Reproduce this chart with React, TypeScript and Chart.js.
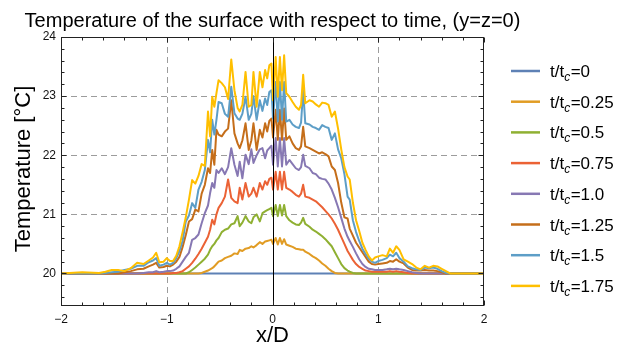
import React, { useEffect, useRef } from "react";
import { Chart, registerables } from "chart.js";

Chart.register(...registerables);

const FONT = "'Liberation Sans', Arial, Helvetica, sans-serif";

const TITLE = "Temperature of the surface with respect to time, (y=z=0)";
const X_TITLE = "x/D";
const Y_TITLE = "Temperature [\u00B0C]";

const X_TICKS = [-2, -1, 0, 1, 2];
const Y_TICKS = [20, 21, 22, 23, 24];
const X_GRIDLINES = [-1, 1];
const Y_GRIDLINES = [21, 22, 23];

const SERIES_LABELS = ["0", "0.25", "0.5", "0.75", "1.0", "1.25", "1.5", "1.75"];
const COLORS = ["#5E81B5", "#E19C24", "#8FB032", "#EB6235", "#8778B3", "#C56E1A", "#5D9EC7", "#FFBF00"];

const X_FLAT = [-2, 2];
const T000 = [20, 20];

const X_GRID = [
  -2.0, -1.8, -1.64, -1.58, -1.52, -1.46, -1.4, -1.34, -1.28, -1.22,
  -1.17, -1.13, -1.1, -1.07, -1.03, -1.0, -0.97, -0.94, -0.91, -0.88,
  -0.85, -0.82, -0.79, -0.76, -0.73, -0.7, -0.67, -0.64, -0.61, -0.59,
  -0.57, -0.55, -0.53, -0.51, -0.48, -0.45, -0.42, -0.39, -0.36, -0.33,
  -0.31, -0.285, -0.255, -0.225, -0.2, -0.18, -0.15, -0.12, -0.095, -0.07,
  -0.05, -0.03, -0.01, 0.005, 0.03, 0.05, 0.07, 0.09, 0.11, 0.13,
  0.16, 0.19, 0.22, 0.25, 0.27, 0.29, 0.31, 0.35, 0.38, 0.41,
  0.44, 0.47, 0.5, 0.53, 0.56, 0.59, 0.62, 0.65, 0.68, 0.71,
  0.73, 0.76, 0.79, 0.82, 0.85, 0.88, 0.91, 0.94, 0.97, 1.0,
  1.04, 1.08, 1.11, 1.14, 1.17, 1.2, 1.24, 1.28, 1.32, 1.36,
  1.4, 1.44, 1.48, 1.52, 1.56, 1.6, 1.64, 1.68, 1.8, 2.0,
];

const T025 = [
  20.0, 20.0, 20.0, 20.0, 20.0, 20.0, 20.0, 20.0, 20.0, 20.0,
  20.0, 20.0, 20.0, 20.0, 20.0, 20.0, 20.0, 20.0, 20.0, 20.0,
  20.0, 20.0, 20.0, 20.0, 20.0, 20.0, 20.01, 20.03, 20.05, 20.07,
  20.09, 20.12, 20.16, 20.2, 20.22, 20.26, 20.28, 20.3, 20.34, 20.33,
  20.4, 20.38, 20.42, 20.43, 20.46, 20.44, 20.48, 20.53, 20.5, 20.54,
  20.55, 20.56, 20.57, 20.5, 20.6, 20.49, 20.6, 20.5, 20.58, 20.49,
  20.47, 20.45, 20.42, 20.41, 20.4, 20.4, 20.37, 20.33, 20.29, 20.26,
  20.22, 20.17, 20.13, 20.08, 20.04, 20.01, 20.0, 20.0, 20.0, 20.0,
  20.0, 20.0, 20.0, 20.0, 20.0, 20.0, 20.0, 20.0, 20.0, 20.0,
  20.0, 20.0, 20.0, 20.0, 20.0, 20.0, 20.0, 20.0, 20.0, 20.0,
  20.0, 20.0, 20.0, 20.0, 20.0, 20.0, 20.0, 20.0, 20.0, 20.0,
];

const T050 = [
  20.0, 20.0, 20.0, 20.0, 20.0, 20.0, 20.0, 20.0, 20.0, 20.0,
  20.0, 20.0, 20.0, 20.0, 20.0, 20.0, 20.0, 20.0, 20.0, 20.0,
  20.0, 20.0, 20.02, 20.06, 20.1, 20.15, 20.2, 20.25, 20.32, 20.4,
  20.46, 20.5, 20.56, 20.6, 20.7, 20.74, 20.76, 20.83, 20.85, 20.97,
  20.8, 20.86, 20.97, 20.88, 20.85, 20.95, 21.0, 20.88, 21.02, 21.05,
  21.07, 21.09, 21.11, 20.97, 21.16, 20.97, 21.16, 20.98, 21.16, 20.97,
  20.9, 20.86, 20.83, 20.82, 20.86, 20.94, 20.84, 20.79, 20.74, 20.71,
  20.67, 20.63, 20.58, 20.52, 20.46, 20.36, 20.26, 20.16, 20.09, 20.05,
  20.03, 20.01, 20.0, 20.0, 20.0, 20.0, 20.0, 20.0, 20.0, 20.0,
  20.0, 20.0, 20.0, 20.0, 20.0, 20.0, 20.0, 20.0, 20.0, 20.0,
  20.0, 20.0, 20.0, 20.0, 20.0, 20.0, 20.0, 20.0, 20.0, 20.0,
];

const T075 = [
  20.0, 20.0, 20.0, 20.0, 20.0, 20.0, 20.0, 20.0, 20.0, 20.0,
  20.0, 20.0, 20.0, 20.0, 20.0, 20.0, 20.0, 20.01, 20.01, 20.02,
  20.04, 20.08, 20.12, 20.18, 20.25, 20.33, 20.42, 20.52, 20.62, 20.74,
  20.91, 20.83, 21.0, 21.11, 21.19, 21.3, 21.59, 21.28, 21.22, 21.19,
  21.45, 21.25, 21.53, 21.3, 21.35, 21.45, 21.3, 21.53, 21.42, 21.56,
  21.5, 21.6, 21.62, 21.42, 21.72, 21.42, 21.72, 21.42, 21.72, 21.45,
  21.42, 21.38, 21.33, 21.3, 21.35, 21.5, 21.3, 21.28, 21.25, 21.22,
  21.17, 21.12, 21.06, 21.0, 20.93, 20.84, 20.74, 20.62, 20.5, 20.38,
  20.32, 20.23, 20.16, 20.11, 20.08, 20.05, 20.04, 20.03, 20.03, 20.03,
  20.03, 20.03, 20.04, 20.03, 20.04, 20.03, 20.02, 20.01, 20.0, 20.0,
  20.0, 20.0, 20.0, 20.0, 20.0, 20.0, 20.0, 20.0, 20.0, 20.0,
];

const T100 = [
  20.0, 20.0, 20.0, 20.0, 20.0, 20.0, 20.0, 20.0, 20.0, 20.01,
  20.02, 20.02, 20.04, 20.02, 20.03, 20.04, 20.04, 20.05, 20.08, 20.12,
  20.2, 20.28, 20.35, 20.57, 20.6, 20.66, 20.85, 21.02, 21.15, 21.36,
  21.53, 21.45, 21.75, 21.7, 21.78, 21.68, 21.8, 22.12, 21.84, 21.65,
  21.89, 21.61, 22.01, 21.85, 22.1, 21.87, 22.0, 22.1, 22.12, 21.95,
  22.08, 22.12, 22.16, 21.84, 22.29, 21.81, 22.29, 21.81, 22.29, 21.84,
  21.92, 21.85, 21.78, 21.75, 21.8, 22.01, 21.82, 21.78, 21.7, 21.68,
  21.62, 21.6, 21.59, 21.52, 21.42, 21.28, 21.12, 20.94, 20.76, 20.62,
  20.55, 20.45, 20.34, 20.24, 20.16, 20.11, 20.08, 20.07, 20.06, 20.06,
  20.06, 20.07, 20.08, 20.07, 20.08, 20.07, 20.06, 20.04, 20.02, 20.01,
  20.0, 20.0, 20.0, 20.0, 20.0, 20.0, 20.0, 20.0, 20.0, 20.0,
];

const T125 = [
  20.0, 20.0, 20.0, 20.0, 20.0, 20.0, 20.02, 20.04, 20.07, 20.08,
  20.12, 20.15, 20.18, 20.1, 20.11, 20.13, 20.12, 20.15, 20.2, 20.28,
  20.45, 20.65, 20.88, 20.92, 21.08, 21.05, 21.35, 21.5, 21.78, 21.7,
  22.09, 21.84, 22.43, 22.35, 22.32, 22.4, 22.45, 22.93, 22.37, 22.2,
  22.12, 22.25, 22.54, 22.09, 22.25, 22.54, 22.09, 22.43, 22.3, 22.54,
  22.4, 22.58, 22.62, 22.3, 22.77, 22.26, 22.77, 22.26, 22.79, 22.26,
  22.32, 22.2, 22.12, 22.09, 22.15, 22.48, 22.15, 22.12, 22.09, 22.06,
  22.03, 22.05, 22.02, 21.98, 21.81, 21.75, 21.53, 21.2, 20.95, 20.93,
  20.76, 20.64, 20.52, 20.44, 20.36, 20.28, 20.2, 20.16, 20.15, 20.16,
  20.17, 20.18, 20.21, 20.2, 20.24, 20.2, 20.17, 20.1, 20.06, 20.05,
  20.05, 20.06, 20.05, 20.05, 20.04, 20.02, 20.0, 20.0, 20.0, 20.0,
];

const T150 = [
  20.0, 20.0, 20.0, 20.01, 20.02, 20.03, 20.06, 20.08, 20.13, 20.13,
  20.19, 20.22, 20.26, 20.13, 20.15, 20.18, 20.15, 20.18, 20.26, 20.38,
  20.55, 20.88, 20.98, 21.19, 21.11, 21.42, 21.55, 21.75, 22.26, 22.05,
  22.6, 22.35, 22.6, 22.9, 22.88, 22.7, 22.65, 23.16, 22.71, 22.62,
  22.6, 22.7, 22.99, 22.6, 22.7, 23.0, 22.6, 22.93, 22.75, 22.96,
  22.85, 23.07, 23.1, 22.62, 23.24, 22.57, 23.24, 22.6, 23.24, 22.57,
  22.6, 22.52, 22.48, 22.46, 22.55, 23.1, 22.54, 22.52, 22.48, 22.46,
  22.43, 22.51, 22.48, 22.46, 22.26, 22.37, 22.1, 21.95, 21.68, 21.3,
  21.25, 20.9, 20.7, 20.55, 20.42, 20.33, 20.25, 20.2, 20.18, 20.21,
  20.23, 20.26, 20.32, 20.29, 20.35, 20.26, 20.2, 20.12, 20.09, 20.07,
  20.06, 20.1, 20.09, 20.1, 20.08, 20.04, 20.01, 20.0, 20.0, 20.0,
];

const T175 = [
  20.0, 20.02, 20.01, 20.03, 20.06, 20.06, 20.04, 20.09, 20.18, 20.16,
  20.22, 20.27, 20.35, 20.19, 20.2, 20.26, 20.21, 20.21, 20.3, 20.46,
  20.7, 20.95, 21.25, 21.58, 21.52, 21.65, 21.85, 21.82, 22.74, 22.32,
  22.99, 22.82, 23.05, 23.27, 23.22, 23.15, 22.95, 23.62, 23.1, 22.8,
  22.74, 22.85, 23.41, 22.82, 22.85, 23.41, 22.82, 23.41, 23.15, 23.44,
  23.3, 23.52, 23.55, 22.93, 23.66, 22.99, 23.66, 23.1, 23.69, 23.05,
  22.99, 22.9, 22.82, 22.77, 22.85, 23.36, 22.88, 22.93, 22.91, 22.86,
  22.82, 22.89, 22.88, 22.85, 22.65, 22.74, 22.45, 22.1, 21.8, 21.64,
  21.59, 21.2, 20.9, 20.72, 20.52, 20.4, 20.29, 20.22, 20.27, 20.29,
  20.31, 20.29, 20.42, 20.35, 20.46, 20.4, 20.24, 20.2, 20.16, 20.1,
  20.07, 20.13, 20.1, 20.13, 20.12, 20.08, 20.04, 20.0, 20.0, 20.0,
];

const SERIES = [
  { xs: X_FLAT, ys: T000 },
  { xs: X_GRID, ys: T025 },
  { xs: X_GRID, ys: T050 },
  { xs: X_GRID, ys: T075 },
  { xs: X_GRID, ys: T100 },
  { xs: X_GRID, ys: T125 },
  { xs: X_GRID, ys: T150 },
  { xs: X_GRID, ys: T175 },
];

const fmtTick = (v: number) => (v < 0 ? "\u2212" + Math.abs(v) : String(v));

const decor = {
  id: "decor",
  beforeDatasetsDraw(chart: any) {
    const { ctx, chartArea: a, scales } = chart;
    const x = scales.x;
    const y = scales.y;
    ctx.save();
    ctx.strokeStyle = "#9c9c9c";
    ctx.lineWidth = 1;
    ctx.setLineDash([6, 4]);
    for (const v of X_GRIDLINES) {
      const px = Math.round(x.getPixelForValue(v)) + 0.5;
      ctx.beginPath();
      ctx.moveTo(px, a.top);
      ctx.lineTo(px, a.bottom);
      ctx.stroke();
    }
    for (const v of Y_GRIDLINES) {
      const py = Math.round(y.getPixelForValue(v)) + 0.5;
      ctx.beginPath();
      ctx.moveTo(a.left, py);
      ctx.lineTo(a.right, py);
      ctx.stroke();
    }
    ctx.restore();
  },
  afterDatasetsDraw(chart: any) {
    const { ctx, chartArea: a, scales } = chart;
    const x = scales.x;
    const y = scales.y;
    ctx.save();
    ctx.setLineDash([]);
    ctx.strokeStyle = "#000";
    ctx.lineWidth = 1;
    // vertical axis at x = 0
    const p0 = Math.round(x.getPixelForValue(0)) + 0.5;
    ctx.beginPath();
    ctx.moveTo(p0, a.top);
    ctx.lineTo(p0, a.bottom);
    ctx.stroke();
    // frame
    const L = Math.round(a.left) + 0.5;
    const R = Math.round(a.right) - 0.5;
    const T = Math.round(a.top) + 0.5;
    const B = Math.round(a.bottom) - 0.5;
    ctx.strokeStyle = "#222";
    ctx.strokeRect(L, T, R - L, B - T);
    // x ticks (inward, bottom and top)
    for (let k = 0; k <= 20; k++) {
      const v = -2 + k * 0.2;
      const major = k % 5 === 0;
      const len = major ? 5 : 3;
      const px = Math.round(x.getPixelForValue(v)) + 0.5;
      ctx.beginPath();
      ctx.moveTo(px, B);
      ctx.lineTo(px, B - len);
      ctx.moveTo(px, T);
      ctx.lineTo(px, T + len);
      ctx.stroke();
    }
    // y ticks (inward, left and right)
    for (let k = 0; k <= 22; k++) {
      const v = 19.6 + k * 0.2;
      const major = Math.abs(v - Math.round(v)) < 1e-6;
      const len = major ? 5 : 3;
      const py = Math.round(y.getPixelForValue(v)) + 0.5;
      ctx.beginPath();
      ctx.moveTo(L, py);
      ctx.lineTo(L + len, py);
      ctx.moveTo(R, py);
      ctx.lineTo(R - len, py);
      ctx.stroke();
    }
    // title
    const cx = (a.left + a.right) / 2;
    ctx.fillStyle = "#000";
    ctx.textAlign = "center";
    ctx.textBaseline = "alphabetic";
    ctx.font = `20px ${FONT}`;
    ctx.fillText(TITLE, cx, 27);
    // x title
    ctx.font = `22px ${FONT}`;
    ctx.fillText(X_TITLE, cx, 342);
    // y title
    ctx.save();
    ctx.translate(30, 169);
    ctx.rotate(-Math.PI / 2);
    ctx.textBaseline = "alphabetic";
    ctx.fillText(Y_TITLE, 0, 0);
    ctx.restore();
    // legend
    ctx.textAlign = "left";
    for (let i = 0; i < SERIES_LABELS.length; i++) {
      const ly = 71 + i * 30.7;
      ctx.strokeStyle = COLORS[i];
      ctx.lineWidth = 2.5;
      ctx.beginPath();
      ctx.moveTo(511, ly);
      ctx.lineTo(540, ly);
      ctx.stroke();
      let tx = 550;
      const base = ly + 6;
      ctx.fillStyle = "#000";
      ctx.font = `17px ${FONT}`;
      ctx.fillText("t/t", tx, base);
      tx += ctx.measureText("t/t").width;
      ctx.font = `italic 12px ${FONT}`;
      ctx.fillText("c", tx, base + 4);
      tx += ctx.measureText("c").width + 0.5;
      ctx.font = `17px ${FONT}`;
      ctx.fillText("=" + SERIES_LABELS[i], tx, base);
    }
    ctx.restore();
  },
};

export default function App() {
  const ref = useRef<HTMLCanvasElement>(null);
  useEffect(() => {
    document.body.style.margin = "0";
    const canvas = ref.current;
    if (!canvas) return;
    const chart = new Chart(canvas, {
      type: "line",
      data: {
        datasets: SERIES.map((s, i) => ({
          label: "t/tc=" + SERIES_LABELS[i],
          data: s.xs.map((xv, j) => ({ x: xv, y: s.ys[j] })),
          borderColor: COLORS[i],
          backgroundColor: COLORS[i],
          borderWidth: 2,
          pointRadius: 0,
          tension: 0,
          fill: false,
          borderJoinStyle: "round" as const,
          order: SERIES.length - 1 - i,
        })),
      },
      options: {
        responsive: false,
        animation: false,
        layout: { padding: { left: 0, right: 137, top: 37, bottom: 0 } },
        plugins: {
          legend: { display: false },
          title: { display: false },
          tooltip: { enabled: false },
        },
        scales: {
          x: {
            type: "linear",
            min: -2,
            max: 2,
            afterFit: (s: any) => {
              s.height = 46;
            },
            afterBuildTicks: (s: any) => {
              s.ticks = X_TICKS.map((v) => ({ value: v }));
            },
            ticks: {
              font: { family: FONT, size: 12 },
              color: "#111",
              padding: 6,
              maxRotation: 0,
              autoSkip: false,
              callback: (v: any) => fmtTick(Number(v)),
            },
            grid: { display: false, drawTicks: false },
            border: { display: false },
          },
          y: {
            type: "linear",
            min: 19.45,
            max: 24,
            afterFit: (s: any) => {
              s.width = 61;
            },
            afterBuildTicks: (s: any) => {
              s.ticks = Y_TICKS.map((v) => ({ value: v }));
            },
            ticks: {
              font: { family: FONT, size: 12 },
              color: "#111",
              padding: 5,
              callback: (v: any) => String(v),
            },
            grid: { display: false, drawTicks: false },
            border: { display: false },
          },
        },
      },
      plugins: [decor],
    });
    return () => chart.destroy();
  }, []);
  return <canvas ref={ref} width={621} height={352} style={{ display: "block", width: 621, height: 352 }} />;
}
